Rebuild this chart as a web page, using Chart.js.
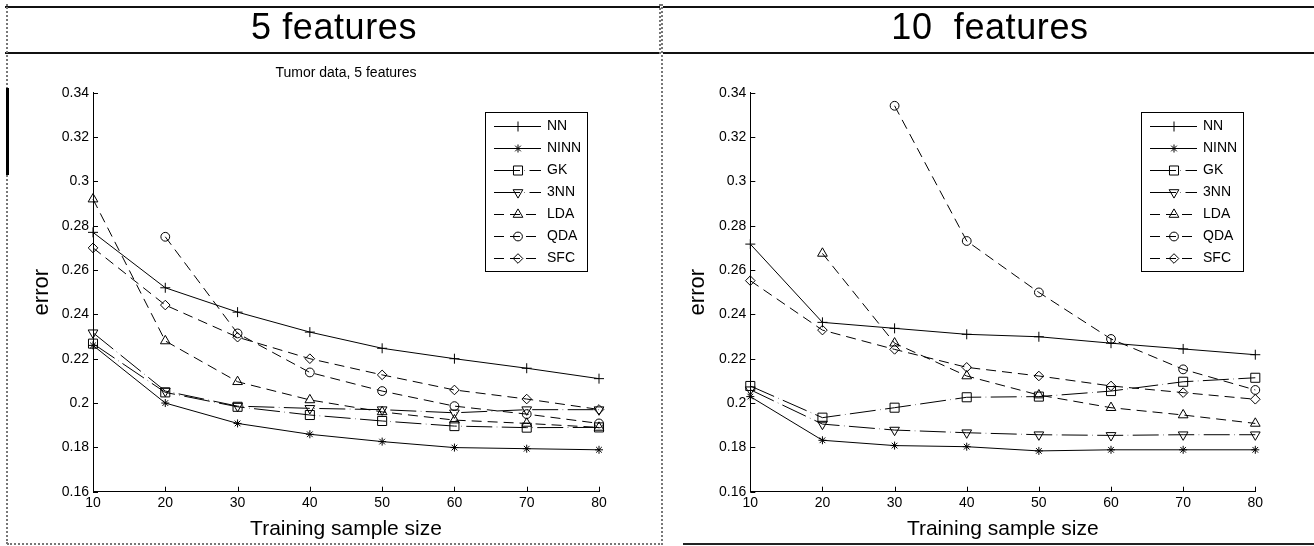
<!DOCTYPE html>
<html>
<head>
<meta charset="utf-8">
<script src="https://cdn.jsdelivr.net/npm/chart.js@4.4.1/dist/chart.umd.min.js"></script>
<style>
body { margin: 0; width: 1314px; height: 546px; position: relative; overflow: hidden; background: #fff; font-family: 'Liberation Sans', Arial, sans-serif; }
.abs { position: absolute; }
.linea { position: absolute; height: 0; border-top: 2px solid #111; }
.encabezado { position: absolute; top: 9px; font-size: 36px; line-height: 36px; letter-spacing: 0.6px; text-align: center; white-space: pre; color: #000; }
canvas { position: absolute; top: 0; }
</style>
</head>
<body>
<canvas id="grafica5" width="660" height="546" style="left:0"></canvas>
<canvas id="grafica10" width="654" height="546" style="left:660px"></canvas>

<div class="linea" style="left:5px; top:6px; width:655px"></div>
<div class="linea" style="left:5px; top:52px; width:655px"></div>
<div class="encabezado" style="left:0; width:668px">5 features</div>
<div class="abs" style="left:6px; top:4px; height:540px; border-left:2px dotted #777"></div>
<div class="abs" style="left:6px; top:88px; height:87px; border-left:3px solid #000"></div>
<div class="abs" style="left:7px; top:543px; width:653px; border-top:2px dotted #777"></div>
<div class="abs" style="left:659px; top:4px; height:50px; border-left:2px dotted #777"></div>

<div class="linea" style="left:663px; top:6px; width:651px"></div>
<div class="linea" style="left:663px; top:52px; width:651px"></div>
<div class="encabezado" style="left:660px; width:660px">10  features</div>
<div class="abs" style="left:661px; top:4px; height:541px; border-left:2px dotted #777"></div>
<div class="abs" style="left:683px; top:543px; width:631px; border-top:2px solid #222"></div>

<script>
// tamaños de muestra de entrenamiento
const tamanos = [10, 20, 30, 40, 50, 60, 70, 80];
const metodos = ['NN', 'NINN', 'GK', '3NN', 'LDA', 'QDA', 'SFC'];
const ticksError = [0.16, 0.18, 0.2, 0.22, 0.24, 0.26, 0.28, 0.3, 0.32, 0.34];

// 5 features
const nn5   = [0.277, 0.252, 0.241, 0.232, 0.2247, 0.220, 0.2157, 0.211];
const ninn5 = [0.226, 0.200, 0.1908, 0.1859, 0.1826, 0.1799, 0.1794, 0.1789];
const gk5   = [0.2268, 0.2048, 0.1983, 0.1946, 0.1919, 0.1896, 0.1889, 0.189];
const knn5  = [0.2317, 0.2054, 0.1986, 0.1976, 0.197, 0.1956, 0.197, 0.197];
const lda5  = [0.292, 0.228, 0.2096, 0.2014, 0.196, 0.1923, 0.1908, 0.189];
const qda5  = [null, 0.275, 0.2314, 0.2138, 0.2054, 0.1986, 0.195, 0.1908];
const sfc5  = [0.270, 0.2442, 0.2297, 0.220, 0.2127, 0.2059, 0.2018, 0.1971];

// 10 features
const nn10   = [0.2717, 0.2364, 0.2337, 0.231, 0.2299, 0.227, 0.2244, 0.2218];
const ninn10 = [0.2029, 0.1832, 0.1808, 0.1803, 0.1784, 0.1789, 0.1789, 0.1789];
const gk10   = [0.2077, 0.1934, 0.1979, 0.2026, 0.2029, 0.2054, 0.2096, 0.2114];
const knn10  = [0.206, 0.1905, 0.1878, 0.1866, 0.1857, 0.1854, 0.1857, 0.1857];
const lda10  = [null, 0.2675, 0.227, 0.2122, 0.2036, 0.1979, 0.1946, 0.1908];
const qda10  = [null, null, 0.3341, 0.2731, 0.2499, 0.2289, 0.2152, 0.2059];
const sfc10  = [0.2552, 0.2329, 0.2242, 0.2161, 0.2122, 0.2077, 0.2047, 0.2017];

// estilo de cada metodo
const rayado = [[], [], [26, 4.5, 0.5, 4.5], [26, 4.5, 0.5, 4.5], [10, 6], [10, 6], [10, 6]];
const marcadores = ['cross', 'star', 'rect', 'triangle', 'triangle', 'circle', 'rectRot'];
const giros = [0, 0, 0, 180, 0, 0, 0];
const radios = [5, 4, 6.4, 5.6, 5.6, 4.4, 4.8];

const fuente = "'Liberation Sans', Arial, sans-serif";

function armarDatasets(valores) {
    return metodos.map(function (m, i) {
        return {
            label: m,
            data: tamanos.map(function (x, j) { return { x: x, y: valores[i][j] }; }),
            borderColor: '#000',
            backgroundColor: 'rgba(0,0,0,0)',
            borderWidth: 1,
            borderDash: rayado[i],
            pointStyle: marcadores[i],
            pointRotation: giros[i],
            pointRadius: radios[i],
            pointBorderWidth: 1,
            pointBorderColor: '#000',
            pointBackgroundColor: 'rgba(0,0,0,0)',
            fill: false,
            tension: 0,
            clip: false
        };
    });
}

// leyenda con recuadro dentro del area
const leyendaCaja = {
    id: 'leyendaCaja',
    afterDraw: function (chart) {
        const ctx = chart.ctx;
        const area = chart.chartArea;
        const ancho = 102, alto = 159;
        const x0 = Math.round(area.right - 12 - ancho);
        const y0 = Math.round(area.top + 19);
        ctx.save();
        ctx.strokeStyle = '#000';
        ctx.lineWidth = 1;
        ctx.strokeRect(x0 + 0.5, y0 + 0.5, ancho, alto);
        chart.data.datasets.forEach(function (ds, i) {
            const y = Math.round(y0 + 14 + i * 22) + 0.5;
            ctx.setLineDash(ds.borderDash);
            ctx.beginPath();
            ctx.moveTo(x0 + 9, y);
            ctx.lineTo(x0 + 56, y);
            ctx.stroke();
            ctx.setLineDash([]);
            ctx.fillStyle = 'rgba(0,0,0,0)';
            Chart.helpers.drawPoint(ctx, {
                pointStyle: ds.pointStyle,
                rotation: ds.pointRotation,
                radius: ds.pointRadius,
                borderWidth: 1
            }, x0 + 33, y);
            ctx.fillStyle = '#000';
            ctx.font = '14px ' + fuente;
            ctx.textBaseline = 'middle';
            ctx.fillText(ds.label, x0 + 62, y);
        });
        ctx.restore();
    }
};

// marcas de los ejes hacia adentro
const marcasInternas = {
    id: 'marcasInternas',
    afterDraw: function (chart) {
        const ctx = chart.ctx;
        const area = chart.chartArea;
        const sx = chart.scales.x, sy = chart.scales.y;
        ctx.save();
        ctx.strokeStyle = '#000';
        ctx.lineWidth = 1;
        ctx.beginPath();
        sy.ticks.forEach(function (t) {
            const p = Math.round(sy.getPixelForValue(t.value)) + 0.5;
            ctx.moveTo(area.left, p);
            ctx.lineTo(area.left + 5, p);
        });
        sx.ticks.forEach(function (t) {
            const p = Math.round(sx.getPixelForValue(t.value)) + 0.5;
            ctx.moveTo(p, area.bottom);
            ctx.lineTo(p, area.bottom - 5);
        });
        ctx.stroke();
        ctx.restore();
    }
};

function opciones(conf) {
    return {
        responsive: false,
        animation: false,
        events: [],
        layout: { padding: conf.padding },
        plugins: {
            legend: { display: false },
            tooltip: { enabled: false },
            title: {
                display: conf.titulo !== '',
                text: conf.titulo,
                fullSize: false,
                color: '#000',
                font: { family: fuente, size: 14, weight: 'normal' },
                padding: { top: 64.6, bottom: 11.3 }
            }
        },
        scales: {
            x: {
                type: 'linear',
                min: 10,
                max: 80,
                afterFit: function (s) { s.height = 54.3; },
                grid: { display: false, drawTicks: false },
                border: { display: true, color: '#000', width: 1 },
                ticks: {
                    stepSize: 10,
                    padding: 3,
                    color: '#000',
                    font: { family: fuente, size: 14 }
                },
                title: {
                    display: true,
                    text: 'Training sample size',
                    color: '#000',
                    font: { family: fuente, size: 21 },
                    padding: { top: 0, bottom: 3.7 }
                }
            },
            y: {
                type: 'linear',
                min: 0.16,
                max: 0.34,
                afterFit: function (s) { s.width = conf.anchoY; },
                afterBuildTicks: function (s) {
                    s.ticks = ticksError.map(function (v) { return { value: v }; });
                },
                grid: { display: false, drawTicks: false },
                border: { display: true, color: '#000', width: 1 },
                ticks: {
                    padding: 4,
                    color: '#000',
                    font: { family: fuente, size: 14 },
                    callback: function (v) { return String(Math.round(v * 100) / 100); }
                },
                title: {
                    display: true,
                    text: 'error',
                    color: '#000',
                    font: { family: fuente, size: 22 },
                    padding: { top: conf.tituloY, bottom: 0 }
                }
            }
        }
    };
}

new Chart(document.getElementById('grafica5'), {
    type: 'line',
    data: { datasets: armarDatasets([nn5, ninn5, gk5, knn5, lda5, qda5, sfc5]) },
    options: opciones({
        titulo: 'Tumor data, 5 features',
        padding: { left: 0, right: 61, top: 0, bottom: 0 },
        anchoY: 93,
        tituloY: 28.8
    }),
    plugins: [leyendaCaja, marcasInternas]
});

new Chart(document.getElementById('grafica10'), {
    type: 'line',
    data: { datasets: armarDatasets([nn10, ninn10, gk10, knn10, lda10, qda10, sfc10]) },
    options: opciones({
        titulo: '',
        padding: { left: 0, right: 58.7, top: 92.7, bottom: 0 },
        anchoY: 90.3,
        tituloY: 24.8
    }),
    plugins: [leyendaCaja, marcasInternas]
});
</script>
</body>
</html>
